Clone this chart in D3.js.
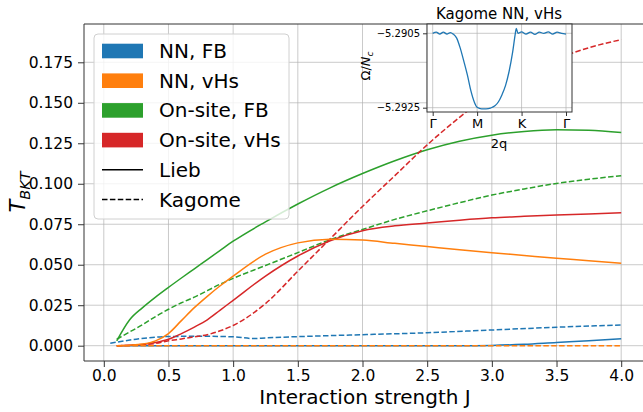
<!DOCTYPE html>
<html>
  <head>
    <meta charset="utf-8">
    <script src="https://d3js.org/d3.v7.min.js"></script>
    <style>
      body { margin: 0; background: #fff; }
      svg { font-family: 'DejaVu Sans', sans-serif; display: block; }
      .grid line { stroke: #b0b0b0; stroke-opacity: 0.75; stroke-width: 0.9; }
      .spine { stroke: #333; stroke-width: 1; fill: none; }
    </style>
  </head>
  <body>
    <script>

      // data
      var J = [0.1, 0.2, 0.3, 0.4, 0.5, 0.6, 0.7, 0.8, 0.9, 1.0, 1.25, 1.5, 1.75, 2.0, 2.25, 2.5, 2.75, 3.0, 3.25, 3.5, 3.75, 4.0];
      var JnnFbKagome = [0.05, 0.25, 0.5, 0.75, 1.0, 1.16, 1.25, 1.5, 2.0, 2.5, 3.0, 3.5, 4.0];

      var nnFbLieb    = [0, 0, 0, 0, 0, 0, 0, 0, 0, 0, 0, 0, 0, 0, 0, 0, 0, 0.0002, 0.0009, 0.002, 0.003, 0.0043];
      var nnFbKagome  = [0.0015, 0.004, 0.0057, 0.0058, 0.0055, 0.0044, 0.0048, 0.0056, 0.0068, 0.008, 0.0097, 0.0114, 0.0128];
      var nnVhsLieb   = [0, 0.0003, 0.001, 0.003, 0.0075, 0.0155, 0.0235, 0.0305, 0.037, 0.043, 0.0565, 0.0635, 0.0657, 0.0652, 0.0632, 0.0612, 0.0592, 0.0574, 0.0557, 0.054, 0.0525, 0.0509];
      var nnVhsKagome = [0, 0, 0, 0, 0, 0, 0, 0, 0, 0, 0, 0, 0, 0, 0, 0, 0, 0, 0, 0, 0, 0];
      var osFbLieb    = [0.003, 0.016, 0.0235, 0.030, 0.036, 0.0418, 0.0475, 0.0532, 0.0589, 0.0645, 0.0765, 0.0875, 0.0975, 0.1063, 0.1142, 0.121, 0.1263, 0.130, 0.1323, 0.1333, 0.133, 0.1316];
      var osFbKagome  = [0.004, 0.0085, 0.013, 0.018, 0.0225, 0.0265, 0.030, 0.034, 0.038, 0.0416, 0.0495, 0.0575, 0.0655, 0.0718, 0.078, 0.0833, 0.0883, 0.093, 0.0968, 0.1002, 0.1028, 0.105];
      var osVhsLieb   = [0, 0.0003, 0.0008, 0.002, 0.004, 0.0075, 0.0115, 0.016, 0.022, 0.028, 0.043, 0.0554, 0.0648, 0.071, 0.074, 0.0757, 0.0775, 0.079, 0.0799, 0.0807, 0.0814, 0.0821];
      var osVhsKagome = [0, 0.0002, 0.0006, 0.0014, 0.003, 0.0042, 0.0055, 0.0068, 0.0092, 0.0125, 0.026, 0.046, 0.066, 0.086, 0.105, 0.124, 0.141, 0.156, 0.168, 0.177, 0.184, 0.189];

      var xTicks = [0.0, 0.5, 1.0, 1.5, 2.0, 2.5, 3.0, 3.5, 4.0];
      var yTicks = [0.000, 0.025, 0.050, 0.075, 0.100, 0.125, 0.150, 0.175];

      // inset: grand potential along Γ-M-K-Γ
      var qPath = [0, 0.08, 0.16, 0.24, 0.32, 0.40, 0.46, 0.54, 0.62, 0.70, 0.78, 0.86, 0.94, 1.0, 1.1, 1.2, 1.3, 1.4, 1.48, 1.56, 1.64, 1.72, 1.80, 1.86, 1.88, 1.92, 2.0, 2.1, 2.2, 2.3, 2.4, 2.5, 2.6, 2.7, 2.8, 2.9, 3.0];
      var omega = [-5.29050, -5.29047, -5.29052, -5.29047, -5.29052, -5.29048, -5.29052, -5.29063, -5.29090, -5.29125, -5.29162, -5.29205, -5.29236, -5.29249, -5.29253, -5.29253, -5.29251, -5.29245, -5.29234, -5.29215, -5.29190, -5.29152, -5.29100, -5.29050, -5.29037, -5.29050, -5.29046, -5.29052, -5.29047, -5.29053, -5.29047, -5.29050, -5.29046, -5.29052, -5.29047, -5.29050, -5.29052];
      var qTickVals = [0, 1, 2, 3];
      var qTickLabels = ["Γ", "M", "K", "Γ"];
      var omegaTicks = [-5.2905, -5.2925];

      var colors = { nnFb: "#1f77b4", nnVhs: "#ff7f0e", osFb: "#2ca02c", osVhs: "#d62728" };

      var series = [
        { x: J, y: nnFbLieb, color: colors.nnFb, dashed: false },
        { x: JnnFbKagome, y: nnFbKagome, color: colors.nnFb, dashed: true },
        { x: J, y: osFbLieb, color: colors.osFb, dashed: false },
        { x: J, y: osFbKagome, color: colors.osFb, dashed: true },
        { x: J, y: osVhsLieb, color: colors.osVhs, dashed: false },
        { x: J, y: osVhsKagome, color: colors.osVhs, dashed: true },
        { x: J, y: nnVhsLieb, color: colors.nnVhs, dashed: false },
        { x: J, y: nnVhsKagome, color: colors.nnVhs, dashed: true }
      ];

      var legendItems = [
        { label: "NN, FB", color: colors.nnFb, kind: "patch" },
        { label: "NN, vHs", color: colors.nnVhs, kind: "patch" },
        { label: "On-site, FB", color: colors.osFb, kind: "patch" },
        { label: "On-site, vHs", color: colors.osVhs, kind: "patch" },
        { label: "Lieb", color: "#000", kind: "solid" },
        { label: "Kagome", color: "#000", kind: "dashed" }
      ];

      // setup
      var w = 643, h = 412;
      var box = { left: 84, right: 660, top: 24, bottom: 361 };

      var svg = d3.select("body").append("svg")
          .attr("width", w)
          .attr("height", h);

      var xScale = d3.scaleLinear().domain([0, 4]).range([103.8, 621.2]);
      var yScale = d3.scaleLinear().domain([0, 0.175]).range([345.7, 62.3]);

      // gridlines
      var grid = svg.append("g").attr("class", "grid");
      grid.selectAll(".gx").data(xTicks).enter().append("line")
          .attr("x1", function(d) { return xScale(d); })
          .attr("x2", function(d) { return xScale(d); })
          .attr("y1", box.top).attr("y2", box.bottom);
      grid.selectAll(".gy").data(yTicks).enter().append("line")
          .attr("x1", box.left).attr("x2", box.right)
          .attr("y1", function(d) { return yScale(d); })
          .attr("y2", function(d) { return yScale(d); });

      // curves
      var plot = svg.append("g");
      series.forEach(function(s) {
        var pts = s.x.map(function(x, i) { return [x, s.y[i]]; });
        var line = d3.line()
            .x(function(d) { return xScale(d[0]); })
            .y(function(d) { return yScale(d[1]); })
            .curve(d3.curveMonotoneX);
        plot.append("path")
            .attr("d", line(pts))
            .attr("fill", "none")
            .attr("stroke", s.color)
            .attr("stroke-width", 1.5)
            .attr("stroke-dasharray", s.dashed ? "5.5,2.4" : null);
      });

      // axes
      var xAxis = d3.axisBottom(xScale).tickValues(xTicks).tickFormat(d3.format(".1f")).tickSize(6).tickPadding(3);
      var yAxis = d3.axisLeft(yScale).tickValues(yTicks).tickFormat(d3.format(".3f")).tickSize(6).tickPadding(5);

      var gx = svg.append("g").attr("transform", "translate(0," + box.bottom + ")").call(xAxis);
      var gy = svg.append("g").attr("transform", "translate(" + box.left + ",0)").call(yAxis);
      [gx, gy].forEach(function(g) {
        g.select(".domain").remove();
        g.selectAll(".tick line").attr("stroke", "#333");
        g.selectAll(".tick text").attr("fill", "#000").style("font-size", "15.5px").style("font-family", "'DejaVu Sans', sans-serif");
      });

      svg.append("path").attr("class", "spine")
          .attr("d", "M" + box.right + "," + box.top + "H" + box.left + "V" + box.bottom + "H" + box.right);

      // axis labels
      svg.append("text")
          .attr("x", 365).attr("y", 404)
          .attr("text-anchor", "middle")
          .style("font-size", "20px")
          .text("Interaction strength J");

      var yl = svg.append("text")
          .attr("transform", "translate(25,192) rotate(-90)")
          .attr("text-anchor", "middle")
          .style("font-size", "21px");
      yl.append("tspan").style("font-style", "italic").text("T");
      yl.append("tspan").style("font-style", "italic").style("font-size", "14.5px").attr("dy", 5).text("BKT");

      // legend
      var lg = svg.append("g");
      lg.append("rect")
          .attr("x", 94).attr("y", 34).attr("width", 195).attr("height", 185)
          .attr("rx", 4)
          .attr("fill", "#fff").attr("fill-opacity", 0.8)
          .attr("stroke", "#d0d0d0");
      legendItems.forEach(function(d, i) {
        var cy = 51 + i * 29.7;
        if (d.kind === "patch") {
          lg.append("rect").attr("x", 102).attr("y", cy - 7.3).attr("width", 41).attr("height", 14.6)
              .attr("fill", d.color);
        } else {
          lg.append("line").attr("x1", 102).attr("x2", 143).attr("y1", cy).attr("y2", cy)
              .attr("stroke", d.color).attr("stroke-width", 1.5)
              .attr("stroke-dasharray", d.kind === "dashed" ? "5.5,2.4" : null);
        }
        lg.append("text").attr("x", 159).attr("y", cy + 7)
            .style("font-size", "20px").text(d.label);
      });

      // inset
      var ib = { left: 427, right: 572, top: 24, bottom: 112 };
      var qScale = d3.scaleLinear().domain([0, 3]).range([432.7, 566]);
      var oScale = d3.scaleLinear().domain([-5.2905, -5.2925]).range([33.3, 107.7]);

      var inset = svg.append("g");
      inset.append("rect")
          .attr("x", ib.left).attr("y", ib.top)
          .attr("width", ib.right - ib.left).attr("height", ib.bottom - ib.top)
          .attr("fill", "#fff");
      var ig = inset.append("g").attr("class", "grid");
      ig.selectAll(".ix").data(qTickVals).enter().append("line")
          .attr("x1", function(d) { return qScale(d); })
          .attr("x2", function(d) { return qScale(d); })
          .attr("y1", ib.top).attr("y2", ib.bottom);
      ig.selectAll(".iy").data(omegaTicks).enter().append("line")
          .attr("x1", ib.left).attr("x2", ib.right)
          .attr("y1", function(d) { return oScale(d); })
          .attr("y2", function(d) { return oScale(d); });

      inset.append("path")
          .attr("d", d3.line()
            .x(function(d, i) { return qScale(qPath[i]); })
            .y(function(d) { return oScale(d); })
            .curve(d3.curveMonotoneX)(omega))
          .attr("fill", "none")
          .attr("stroke", colors.nnFb)
          .attr("stroke-width", 1.3);

      var qAxis = d3.axisBottom(qScale).tickValues(qTickVals)
          .tickFormat(function(d, i) { return qTickLabels[i]; }).tickSize(4).tickPadding(3);
      var oAxis = d3.axisLeft(oScale).tickValues(omegaTicks)
          .tickFormat(d3.format(".4f")).tickSize(4).tickPadding(3);
      var iqx = inset.append("g").attr("transform", "translate(0," + ib.bottom + ")").call(qAxis);
      var iqy = inset.append("g").attr("transform", "translate(" + ib.left + ",0)").call(oAxis);
      iqx.selectAll(".tick text").style("font-size", "13px");
      iqy.selectAll(".tick text").style("font-size", "10px");
      [iqx, iqy].forEach(function(g) {
        g.select(".domain").remove();
        g.selectAll(".tick line").attr("stroke", "#333");
        g.selectAll(".tick text").attr("fill", "#000").style("font-family", "'DejaVu Sans', sans-serif");
      });
      inset.append("rect").attr("class", "spine")
          .attr("x", ib.left).attr("y", ib.top)
          .attr("width", ib.right - ib.left).attr("height", ib.bottom - ib.top);

      inset.append("text").attr("x", 499).attr("y", 18.5)
          .attr("text-anchor", "middle").style("font-size", "15px")
          .text("Kagome NN, vHs");
      inset.append("text").attr("x", 499).attr("y", 148)
          .attr("text-anchor", "middle").style("font-size", "13px")
          .text("2q");
      var ol = inset.append("text")
          .attr("transform", "translate(370,66) rotate(-90)")
          .attr("text-anchor", "middle").style("font-size", "13px");
      ol.append("tspan").text("Ω/");
      ol.append("tspan").style("font-style", "italic").text("N");
      ol.append("tspan").style("font-style", "italic").style("font-size", "9px").attr("dy", 3).text("c");

    </script>
  </body>
</html>
